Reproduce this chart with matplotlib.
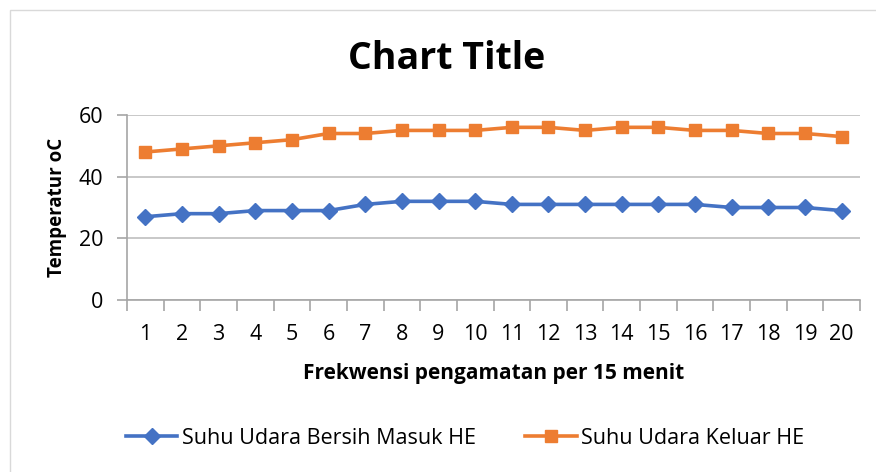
import matplotlib
matplotlib.use("Agg")
import matplotlib.pyplot as plt
from matplotlib.patches import Rectangle
from matplotlib.ticker import FixedLocator

categories = [str(i) for i in range(1, 21)]
masuk = [27, 28, 28, 29, 29, 29, 31, 32, 32, 32, 31, 31, 31, 31, 31, 31, 30, 30, 30, 29]
keluar = [48, 49, 50, 51, 52, 54, 54, 55, 55, 55, 56, 56, 55, 56, 56, 55, 55, 54, 54, 53]
yticks = [0, 20, 40, 60]

plt.rcParams['font.family'] = ['Open Sans', 'DejaVu Sans']

W, H = 876, 472
fig = plt.figure(figsize=(W / 100, H / 100), dpi=100)
fig.patches.append(Rectangle((10 / W, -0.1), 1.2, 1 - 10 / H + 0.1, transform=fig.transFigure,
                             fill=False, edgecolor='#d9d9d9', lw=1))

left, right, top, bottom = 127, 860, 115, 300
ax = fig.add_axes([left / W, 1 - bottom / H, (right - left) / W, (bottom - top) / H])

x = list(range(len(categories)))
ax.plot(x, masuk, color='#4472c4', lw=2.6, marker='D', ms=8, label='Suhu Udara Bersih Masuk HE', zorder=3)
ax.plot(x, keluar, color='#ed7d31', lw=2.6, marker='s', ms=9, label='Suhu Udara Keluar HE', zorder=3)

ax.set_xlim(-0.5, len(categories) - 0.5)
ax.set_ylim(0, 60)
ax.set_yticks(yticks)
ax.set_xticks(x)
ax.set_xticklabels(categories)
ax.yaxis.grid(True, color='#bfbfbf', lw=1.2)
ax.set_axisbelow(True)
for s in ['top', 'right']:
    ax.spines[s].set_visible(False)
for s in ['left', 'bottom']:
    ax.spines[s].set_color('#a6a6a6')
    ax.spines[s].set_linewidth(1.2)
ax.tick_params(axis='y', length=7, color='#a6a6a6', width=1.2, labelsize=15.5, pad=10)
ax.tick_params(axis='x', length=0, labelsize=15.5, pad=17)
ax.xaxis.set_minor_locator(FixedLocator([i - 0.5 for i in range(len(categories) + 1)]))
ax.tick_params(axis='x', which='minor', length=8, color='#a6a6a6', width=1.2)

fig.text(57 / W, 1 - 207 / H, 'Temperatur oC', rotation=90, ha='center', va='center',
         fontsize=13.5, fontweight='bold')
fig.text(494 / W, 1 - 373 / H, 'Frekwensi pengamatan per 15 menit', ha='center', va='center',
         fontsize=15, fontweight='bold')

fig.text(447 / W, 1 - 59 / H, 'Chart Title', ha='center', va='center', fontsize=27, fontweight='bold')

fig.legend(loc='center', bbox_to_anchor=(465 / W, 1 - 438 / H), ncol=2, frameon=False,
           fontsize=15.5, handlelength=2.4, columnspacing=2.3, handletextpad=0.2)

fig.savefig('out.png', dpi=100)
